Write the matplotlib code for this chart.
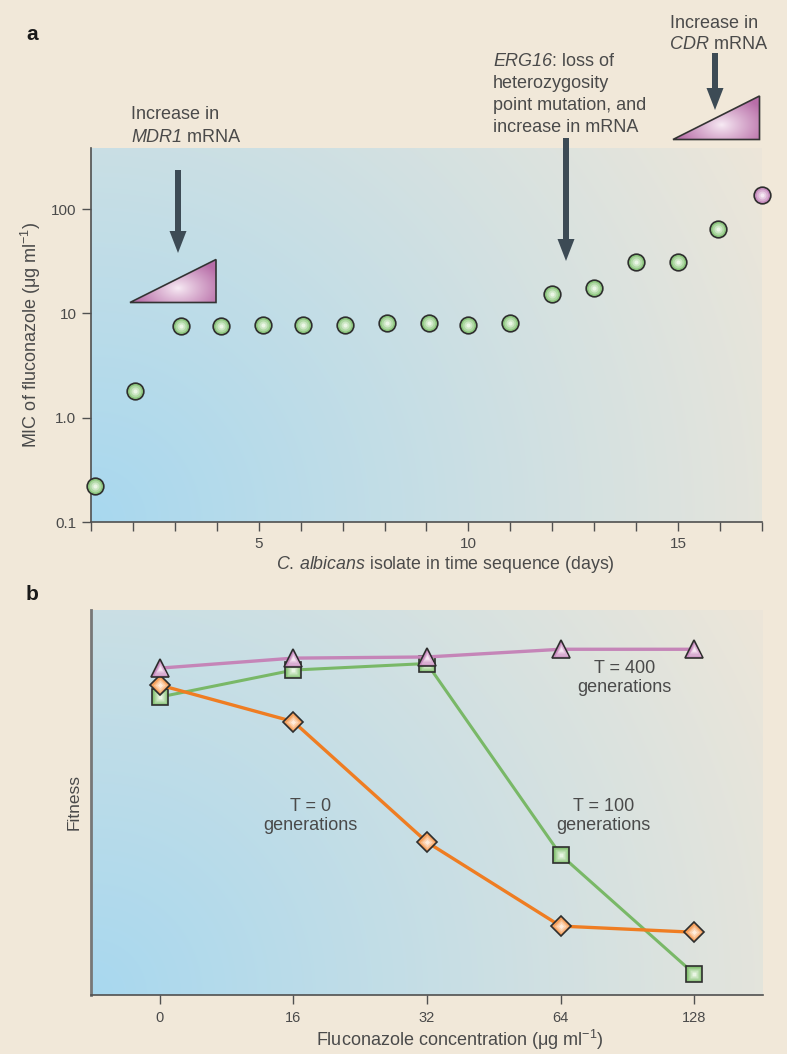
import numpy as np
import matplotlib
matplotlib.use('Agg')
import matplotlib.pyplot as plt
from matplotlib.patches import Polygon, FancyArrow
from matplotlib.colors import to_rgb

plt.rcParams['font.family'] = ['Liberation Sans', 'DejaVu Sans']
plt.rcParams['mathtext.fontset'] = 'custom'
plt.rcParams['mathtext.rm'] = 'Liberation Sans'
plt.rcParams['mathtext.it'] = 'Liberation Sans:italic'
plt.rcParams['mathtext.bf'] = 'Liberation Sans:bold'

# ---------------- data ----------------
# Panel a: MIC of fluconazole for successive C. albicans isolates
isolate_day = [1.1, 2.05, 3.15, 4.1, 5.1, 6.05, 7.05, 8.05, 9.05, 10.0, 11.0,
               12.0, 13.0, 14.0, 15.0, 15.95, 17.0]
mic = [0.22, 1.8, 7.5, 7.6, 7.8, 7.8, 7.8, 8.0, 8.0, 7.8, 8.0,
       15.5, 17.5, 31.0, 31.0, 64.0, 135.0]
day_tick_labels = {5: '5', 10: '10', 15: '15'}
mic_ticks = [0.1, 1, 10, 100]
mic_tick_labels = ['0.1', '1.0', '10', '100']

# Panel b: fitness vs fluconazole concentration
conc_labels = ['0', '16', '32', '64', '128']
fitness_t0 = [0.805, 0.710, 0.397, 0.179, 0.163]
fitness_t100 = [0.774, 0.844, 0.861, 0.364, 0.055]
fitness_t400 = [0.849, 0.875, 0.878, 0.898, 0.898]

# ---------------- figure ----------------
W, H = 787, 1054
fig = plt.figure(figsize=(W / 100, H / 100), dpi=100)
fig.patch.set_facecolor('#f1e8d9')
TXT = '#4a4a4a'


def rect(l, t, r, b):
    return [l / W, 1 - b / H, (r - l) / W, (b - t) / H]


def gradient_bg(pos):
    bg = fig.add_axes(pos, zorder=0)
    bg.set_axis_off()
    nx, ny = int(pos[2] * W), int(pos[3] * H)
    xx, yy = np.meshgrid(np.arange(nx), np.arange(ny))
    d = np.sqrt(xx ** 2 + (ny - 1 - yy) ** 2) / np.hypot(nx, ny)
    c0 = np.array(to_rgb('#a8d8ef'))
    c1 = np.array(to_rgb('#ede6d9'))
    img = c0 + (c1 - c0) * d[..., None]
    bg.imshow(img, extent=[0, 1, 0, 1], aspect='auto', origin='upper',
              interpolation='bilinear')
    bg.set_xlim(0, 1)
    bg.set_ylim(0, 1)


def mix(a, b, t):
    a, b = np.array(to_rgb(a)), np.array(to_rgb(b))
    return tuple(a + (b - a) * t)


def shaded(ax, x, y, marker, ms, base, light, edge='#2e2e2e', z=3):
    ax.plot(x, y, ls='none', marker=marker, ms=ms, mfc=base, mec=edge,
            mew=1.2, zorder=z, clip_on=False)
    for f, t in [(0.72, 0.35), (0.48, 0.65), (0.25, 0.95)]:
        ax.plot(x, y, ls='none', marker=marker, ms=ms * f, mfc=mix(base, light, t),
                mec='none', zorder=z + 0.1, clip_on=False)


def style_axes(ax):
    for s in ['top', 'right']:
        ax.spines[s].set_visible(False)
    for s in ['left', 'bottom']:
        ax.spines[s].set_color('#505050')
        ax.spines[s].set_linewidth(1.2)
    ax.tick_params(direction='out', length=6.5, width=1, color='#505050',
                   labelcolor=TXT, labelsize=11, pad=4)


# ---------------- panel a ----------------
pos_a = rect(91, 148, 762, 522)
gradient_bg(pos_a)
ax = fig.add_axes(pos_a, zorder=1)
ax.set_facecolor('none')
ax.set_yscale('log')
ax.set_xlim(1, 17)
ax.set_ylim(0.1, 385)
style_axes(ax)
ax.set_xticks(range(1, 18))
ax.set_xticklabels([day_tick_labels.get(i, '') for i in range(1, 18)])
ax.set_yticks(mic_ticks)
ax.set_yticklabels(mic_tick_labels)
ax.yaxis.set_minor_locator(matplotlib.ticker.NullLocator())
ax.set_xlabel(r'$\mathit{C.\,albicans}$ isolate in time sequence (days)',
              fontsize=12.8, color=TXT, labelpad=5)
ax.xaxis.set_label_coords((445 - 91) / 671, -0.085)
ax.set_ylabel('MIC of fluconazole (μg ml$^{-1}$)', fontsize=13, color=TXT,
              labelpad=6)

shaded(ax, isolate_day[:-1], mic[:-1], 'o', 12, '#8cc67d', '#f0f9ec')
shaded(ax, isolate_day[-1:], mic[-1:], 'o', 12, '#c68bbd', '#f8eef6')

# ---------------- panel b ----------------
pos_b = rect(91, 610, 763, 995)
gradient_bg(pos_b)
bx = fig.add_axes(pos_b, zorder=1)
bx.set_facecolor('none')
style_axes(bx)
bx.spines['left'].set_color('#777777')
bx.spines['left'].set_linewidth(2)
xpos = np.arange(len(conc_labels))
bx.set_xlim(-0.515, 4.515)
bx.set_ylim(0, 1)
bx.set_xticks(xpos)
bx.set_xticklabels(conc_labels)
bx.set_yticks([])
bx.tick_params(axis='x', labelsize=10.5, pad=5)
bx.set_xlabel('Fluconazole concentration (μg ml$^{-1}$)', fontsize=13,
              color=TXT, labelpad=3)
bx.xaxis.set_label_coords((460 - 91) / 672, -0.085)
bx.set_ylabel('Fitness', fontsize=12.5, color=TXT, labelpad=7)

bx.plot(xpos, fitness_t100, color='#79b867', lw=2.2, zorder=2, clip_on=False)
shaded(bx, xpos, fitness_t100, 's', 11.5, '#86c274', '#eef8ea', z=3)
bx.plot(xpos, fitness_t0, color='#ef7d22', lw=2.4, zorder=4, clip_on=False)
shaded(bx, xpos, fitness_t0, 'D', 10.5, '#f5a05c', '#fff0e2', z=5)
bx.plot(xpos, fitness_t400, color='#c585b8', lw=2.4, zorder=6, clip_on=False)
shaded(bx, xpos, fitness_t400, '^', 13, '#c98cbf', '#f8ecf5', z=7)

bx.text(1.125, 0.465, 'T = 0\ngenerations', ha='center', va='center',
        multialignment='center', fontsize=13, color=TXT)
bx.text(3.32, 0.465, 'T = 100\ngenerations', ha='center', va='center',
        multialignment='center', fontsize=13, color=TXT)
bx.text(3.477, 0.823, 'T = 400\ngenerations', ha='center', va='center',
        multialignment='center', fontsize=13, color=TXT)

# ---------------- annotation overlay (pixel coordinates) ----------------
ov = fig.add_axes([0, 0, 1, 1], zorder=5)
ov.set_axis_off()
ov.patch.set_visible(False)
ov.set_autoscale_on(False)
ov.set_xlim(0, W)
ov.set_ylim(H, 0)


def wedge(x0, y0, x1, y1):
    poly = Polygon([[x0, y0], [x1, y0], [x1, y1]], closed=True, fc='none',
                   ec='#333333', lw=1.2, zorder=7)
    ov.add_patch(poly)
    gx, gy = np.meshgrid(np.linspace(0, 1, 200), np.linspace(0, 1, 100))
    r = np.sqrt(((gx - 0.56) / 0.55) ** 2 + ((gy - 0.68) / 0.7) ** 2)
    r = np.clip(r, 0, 1) ** 0.9
    light = np.array(to_rgb('#f8ecf5'))
    dark = np.array(to_rgb('#b86ea8'))
    img = light + (dark - light) * r[..., None]
    im = ov.imshow(img, extent=[x0, x1, y0, y1], origin='upper',
                   aspect='auto', zorder=6, interpolation='bilinear')
    im.set_clip_path(poly)


def arrow(x, ytop, ytip):
    ov.add_patch(FancyArrow(x, ytop, 0, ytip - ytop, width=6, head_width=17,
                            head_length=22, length_includes_head=True,
                            color='#3d4b55', lw=0, zorder=8))


def rich_line(x, y, segs, size=13):
    t = ov.text(x, y, segs[0][0], fontstyle=segs[0][1], ha='left',
                va='baseline', fontsize=size, color=TXT)
    for s, st in segs[1:]:
        t = ov.annotate(s, xy=(1, 0), xycoords=t, ha='left', va='bottom',
                        fontstyle=st, fontsize=size, color=TXT)


wedge(130, 302.5, 216, 259.5)
wedge(673, 139.5, 759.5, 96)
arrow(178, 170, 253)
arrow(566, 138, 261)
arrow(715, 53, 110)

rich_line(131, 119, [('Increase in', 'normal')])
rich_line(131, 142, [('MDR1', 'italic'), (' mRNA', 'normal')])

rich_line(493, 66, [('ERG16', 'italic'), (': loss of', 'normal')])
rich_line(493, 88.5, [('heterozygosity', 'normal')])
rich_line(493, 110.5, [('point mutation, and', 'normal')])
rich_line(493, 132, [('increase in mRNA', 'normal')])

rich_line(670, 27.5, [('Increase in', 'normal')])
rich_line(670, 49, [('CDR', 'italic'), (' mRNA', 'normal')])

ov.text(26, 34, 'a', ha='left', va='center', fontsize=15, fontweight='bold',
        color='#1a1a1a')
ov.text(26, 595, 'b', ha='left', va='center', fontsize=15, fontweight='bold',
        color='#1a1a1a')

fig.savefig('out.png', dpi=100, facecolor=fig.get_facecolor())
